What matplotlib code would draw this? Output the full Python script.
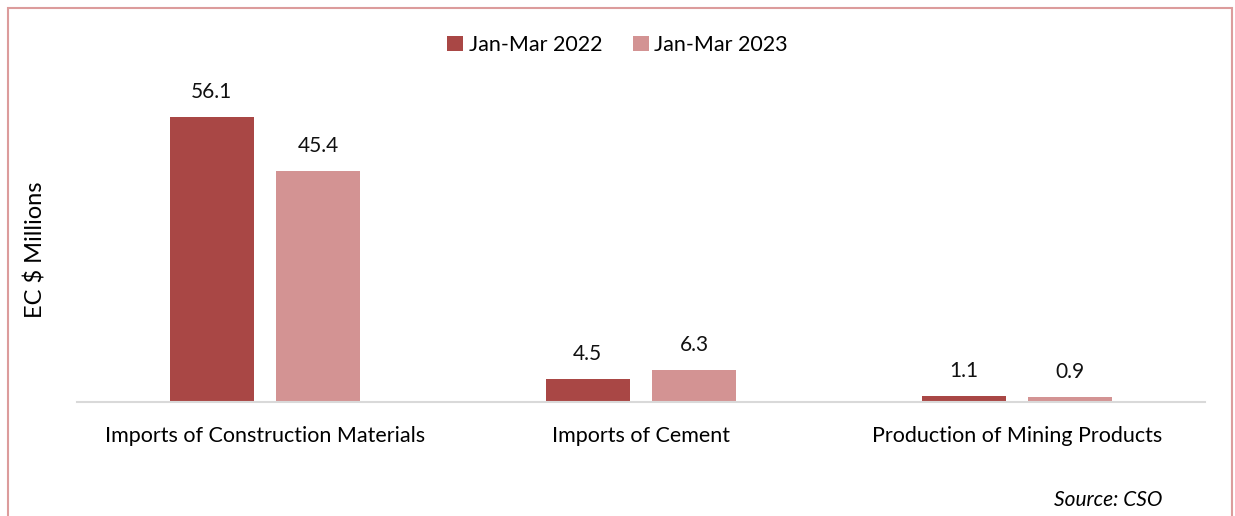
import matplotlib.pyplot as plt
from matplotlib.patches import Rectangle
import numpy as np

plt.rcParams['font.family'] = ['Lato', 'DejaVu Sans']

# Construction indicators, EC$ millions
categories = ['Imports of Construction Materials', 'Imports of Cement',
              'Production of Mining Products']
values_2022 = [56.1, 4.5, 1.1]
values_2023 = [45.4, 6.3, 0.9]
series_labels = ['Jan-Mar 2022', 'Jan-Mar 2023']

dark_red = '#A94745'
light_red = '#D39393'

fig = plt.figure(figsize=(12.35, 5.16), dpi=100)

# outer pink frame (bottom edge runs off the canvas)
fig.patches.append(Rectangle((8 / 1235, -0.05), 1224 / 1235, 1.05 - 7.5 / 516,
                             transform=fig.transFigure, fill=False,
                             edgecolor='#DC9C9C', linewidth=1.5))

ax = fig.add_axes([77 / 1235, 1 - 402 / 516, 1128 / 1235, 305 / 516])
x = np.arange(len(categories))
width = 0.223
offset = 0.142

b1 = ax.bar(x - offset, values_2022, width, color=dark_red, label=series_labels[0])
b2 = ax.bar(x + offset, values_2023, width, color=light_red, label=series_labels[1])

for bars, vals in ((b1, values_2022), (b2, values_2023)):
    for rect, v in zip(bars, vals):
        ax.annotate(f'{v:.1f}', (rect.get_x() + rect.get_width() / 2, v),
                    xytext=(0, 11), textcoords='offset points',
                    ha='center', va='bottom', fontsize=15, color='#111111')

ax.set_xlim(-0.5, 2.5)
ax.set_ylim(0, 60)
ax.set_xticks(x)
ax.set_xticklabels(categories, fontsize=15.5)
ax.tick_params(axis='x', length=0, pad=17)
ax.set_yticks([])
for side in ('top', 'right', 'left'):
    ax.spines[side].set_visible(False)
ax.spines['bottom'].set_color('#D9D9D9')
ax.spines['bottom'].set_linewidth(1.5)

ax.set_ylabel('EC $ Millions', fontsize=17, labelpad=22)

fig.legend(loc='center', bbox_to_anchor=(0.5, 1 - 45 / 516), ncol=2,
           frameon=False, fontsize=15.5, handlelength=0.75, handleheight=0.75,
           handletextpad=0.25, columnspacing=1.4)

fig.text(1163 / 1235, 1 - 500 / 516, 'Source: CSO', ha='right', va='center',
         fontsize=15, style='italic')

fig.savefig('out.png', dpi=100)
